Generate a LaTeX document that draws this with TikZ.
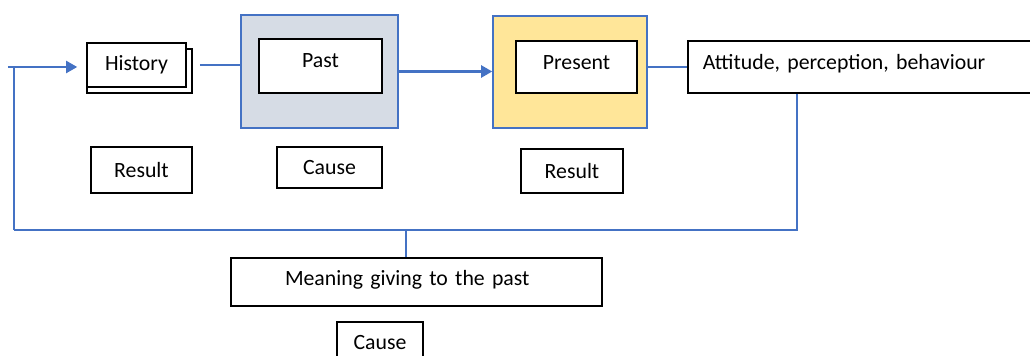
\documentclass[tikz,border=0pt]{standalone}
\usepackage{fontspec}
\setmainfont{Carlito}
\usepackage{tikz}
\usetikzlibrary{arrows.meta}
\definecolor{wordblue}{HTML}{4472C4}
\definecolor{pastfill}{HTML}{D6DCE5}
\definecolor{presentfill}{HTML}{FFE699}
\tikzstyle{Box}=[shape=rectangle, fill=white, line width=1.3pt, draw=black, inner sep=0pt, text=black]
\tikzstyle{Frame}=[shape=rectangle, line width=1pt, draw=wordblue, inner sep=0pt]
\tikzstyle{link}=[line width=1pt, draw=wordblue]
\tikzstyle{heavy}=[line width=2.2pt, draw=wordblue, -{Triangle[length=8pt,width=8.5pt]}]
\pgfdeclarelayer{nodelayer}
\pgfdeclarelayer{edgelayer}
\pgfsetlayers{main, nodelayer, edgelayer}

\begin{document}
\begin{tikzpicture}[font=\fontsize{15.5pt}{18pt}\selectfont]
	\useasboundingbox (0, 0) rectangle (25.75, -8.9);
	\begin{pgfonlayer}{nodelayer}
		\clip (0, 0) rectangle (25.75, -8.9);
		\node [style=Box, minimum width=2.625cm, minimum height=1.1cm] (history_back) at (3.4875, -1.775) {};
		\node [style=Box, minimum width=2.475cm, minimum height=1.1cm] (history) at (3.4125, -1.625) {History};
		\node [style=Frame, fill=pastfill, minimum width=3.925cm, minimum height=2.825cm] (past) at (7.9875, -1.7875) {};
		\node [style=Box, minimum width=3.075cm, minimum height=1.35cm, text depth=8.5pt] (past_inner) at (8.0125, -1.65) {Past};
		\node [style=Frame, fill=presentfill, minimum width=3.85cm, minimum height=2.8cm] (present) at (14.25, -1.8) {};
		\node [style=Box, minimum width=3.025cm, minimum height=1.3cm, text depth=7pt] (present_inner) at (14.4125, -1.675) {Present};
		\node [style=Box, anchor=west, minimum height=1.3cm, text width=8.25cm, inner xsep=0.375cm, align=left, text depth=7pt] (attitude) at (17.175, -1.675) {Attitude, perception, behaviour};
		% labels
		\node [style=Box, minimum width=2.525cm, minimum height=1.15cm] (history_result) at (3.5375, -4.25) {Result};
		\node [style=Box, minimum width=2.625cm, minimum height=1.025cm] (past_cause) at (8.2375, -4.1875) {Cause};
		\node [style=Box, minimum width=2.55cm, minimum height=1.1cm] (present_result) at (14.3, -4.275) {Result};
		% meaning
		\node [style=Box, minimum height=1.2cm, text width=6.575cm, inner xsep=1.35cm, align=left, text depth=5.5pt] (meaning) at (10.4125, -7.05) {Meaning giving to the past};
		\node [style=Box, minimum width=2.15cm, minimum height=1.025cm] (meaning_cause) at (9.5, -8.5625) {Cause};
	\end{pgfonlayer}
	\begin{pgfonlayer}{edgelayer}
		\coordinate (loop_start) at (0.2, -1.675);
		\coordinate (loop_corner) at (0.34, -5.75);
		\coordinate (attitude_out) at ([xshift=2.75cm]attitude.south west);
		\coordinate (meaning_in) at ([xshift=-0.26cm]meaning.north);
		\draw [style=link, shorten <=0.325cm] (history.east) -- (history.east -| past.west);
		\draw [style=heavy] (past.east) -- (past.east -| present.west);
		\draw [style=link] (attitude.west -| present.east) -- (attitude.west);
		% feedback
		\draw [style=link] (attitude_out) |- (loop_corner);
		\draw [style=link, line width=1.4pt] (loop_corner) -- (loop_corner |- loop_start);
		\draw [style=link] (meaning_in) -- (meaning_in |- loop_corner);
		\draw [style=heavy, line width=1.9pt, shorten >=0.22cm] (loop_start) -- (history.west |- loop_start);
	\end{pgfonlayer}
\end{tikzpicture}
\end{document}
